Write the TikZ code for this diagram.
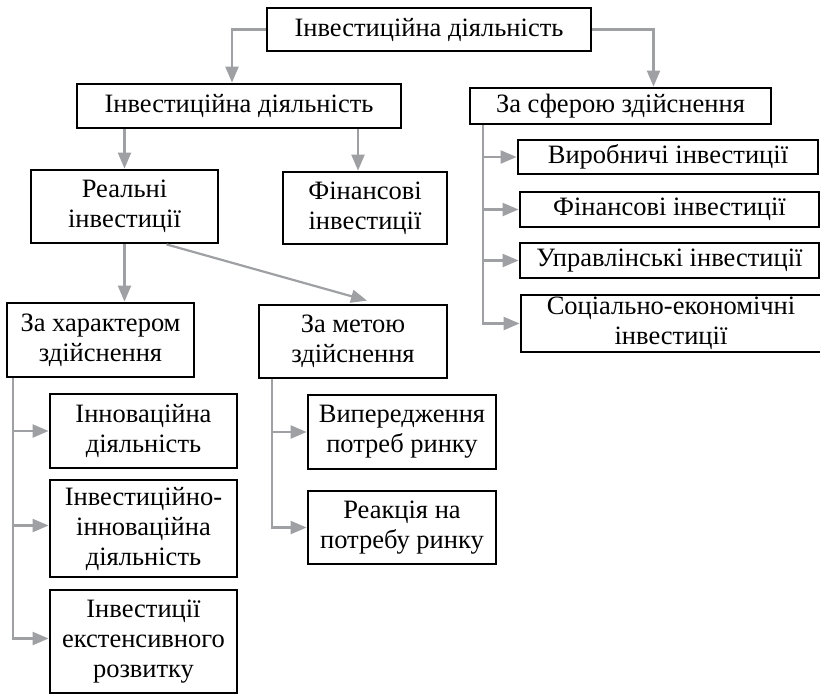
\documentclass[tikz,border=0pt]{standalone}
\usepackage{fontspec}
\setmainfont{Liberation Serif}
\usetikzlibrary{arrows.meta,calc}
\definecolor{arrowgray}{RGB}{158,160,163}
\newcommand{\boxfont}{\fontsize{26.5}{30}\selectfont}
\tikzset{
  box/.style={draw=black, line width=2.8pt, inner sep=0pt, align=center, font=\boxfont},
  conn/.style={draw=arrowgray, line width=2.2pt, -{Triangle[length=16pt,width=13pt]}},
}
% \mkbox{name}{x1}{y1}{x2}{y2}{text}
\newcommand{\mkbox}[6]{%
  \node[box, minimum width=#4pt-#2pt, minimum height=#5pt-#3pt] (#1) at ({(#2+#4)/2},{(#3+#5)/2}) {#6};}
\begin{document}
\begin{tikzpicture}[x=1pt,y=-1pt]
\useasboundingbox (0,0) rectangle (820,694);
\mkbox{top}{267}{8}{591}{51}{Інвестиційна діяльність}
\mkbox{b2}{77}{84}{401}{128}{Інвестиційна діяльність}
\mkbox{sf}{470}{88}{771}{124}{За сферою здійснення}
\mkbox{real}{31}{170}{218}{243}{Реальні\\інвестиції}
\mkbox{fin}{283}{172}{447}{244}{Фінансові\\інвестиції}
\mkbox{vyr}{518}{140}{818}{174}{Виробничі інвестиції}
\mkbox{fin2}{520}{192}{819}{227}{Фінансові інвестиції}
\mkbox{upr}{520}{243}{819}{278}{Управлінські інвестиції}
\mkbox{soc}{521}{295}{830}{352}{\hspace*{-9pt}Соціально-економічні\\\hspace*{-9pt}інвестиції}
\mkbox{char}{7}{303}{194}{377}{За характером\\здійснення}
\mkbox{meta}{259}{305}{447}{378}{За метою\\здійснення}
\mkbox{inn}{50}{394}{237}{468}{Інноваційна\\діяльність}
\mkbox{ii}{50}{480}{237}{577}{Інвестиційно-\\інноваційна\\діяльність}
\mkbox{ext}{50}{590}{237}{693}{Інвестиції\\екстенсивного\\розвитку}
\mkbox{vyp}{308}{395}{496}{469}{Випередження\\потреб ринку}
\mkbox{reak}{308}{491}{496}{564}{Реакція на\\потребу ринку}
% connectors
\coordinate (b2in) at ([xshift=-7pt]b2.north);
\draw[conn] (top.west) -| (b2in);
\coordinate (sfin) at ([xshift=33pt]sf.north);
\draw[conn] (top.east) -| (sfin);
\draw[conn] (b2.south -| real.north) -- (real.north);
\coordinate (finin) at ([xshift=-7pt]fin.north);
\draw[conn] (finin |- b2.south) -- (finin);
\draw[conn] (real.south) -- (real.south |- char.north);
\coordinate (rdiag) at ([xshift=42pt]real.south);
\coordinate (mdiag) at ([xshift=14pt,yshift=3pt]meta.north);
\draw[conn] (rdiag) -- (mdiag);
\coordinate (sft) at ([xshift=14pt]sf.south west);
\draw[conn] (sft) |- (vyr.west);
\draw[conn] (sft) |- (fin2.west);
\draw[conn] (sft) |- (upr.west);
\draw[conn] (sft) |- (soc.west);
\coordinate (cht) at ([xshift=7pt]char.south west);
\draw[conn] (cht) |- (inn.west);
\draw[conn] (cht) |- ([yshift=3pt]ii.west);
\draw[conn] (cht) |- ([yshift=3pt]ext.west);
\coordinate (mt) at ([xshift=14pt]meta.south west);
\draw[conn] (mt) |- (vyp.west);
\draw[conn] (mt) |- (reak.west);
\end{tikzpicture}
\end{document}
